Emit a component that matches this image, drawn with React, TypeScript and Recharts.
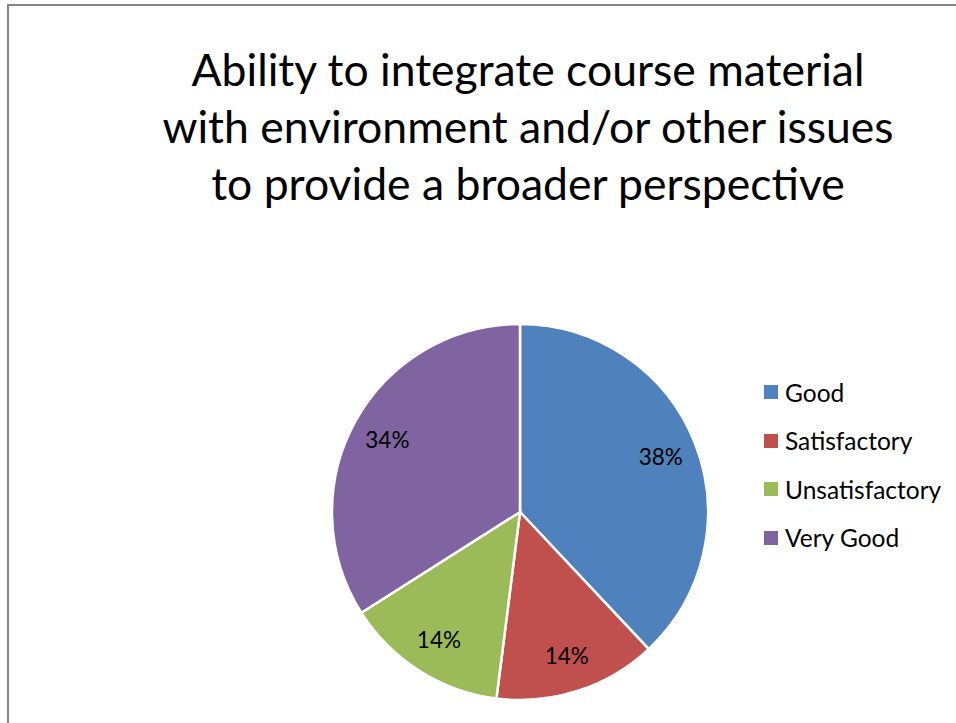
import React from 'react';
import { PieChart, Pie, Cell, Legend } from 'recharts';

const CATEGORIES = ['Good', 'Satisfactory', 'Unsatisfactory', 'Very Good'];
const PERCENTS = [38, 14, 14, 34];
const COLORS = ['#4F81BD', '#C0504D', '#9BBB59', '#8064A2'];
const TITLE_LINES = [
  'Ability to integrate course material',
  'with environment and/or other issues',
  'to provide a broader perspective',
];

const data = CATEGORIES.map((name, i) => ({ name, value: PERCENTS[i] }));

const FONT = 'Lato, Carlito, Calibri, sans-serif';
const RADIAN = Math.PI / 180;

function SliceLabel(props: any) {
  const { cx, cy, midAngle, outerRadius, value } = props;
  const r = outerRadius * 0.805;
  const x = cx + r * Math.cos(-midAngle * RADIAN);
  const y = cy + r * Math.sin(-midAngle * RADIAN);
  return (
    <text x={x} y={y} textAnchor="middle" dominantBaseline="central" fontSize={22.5} fill="#000" fontFamily={FONT}>
      {`${value}%`}
    </text>
  );
}

function LegendBox() {
  return (
    <div style={{ fontFamily: FONT, fontSize: 24.5, color: '#000' }}>
      {data.map((d, i) => (
        <div key={`lg-${d.name}`} style={{ display: 'flex', alignItems: 'center', height: 48.5 }}>
          <span style={{ width: 14, height: 14, background: COLORS[i], display: 'inline-block', marginRight: 7 }} />
          <span>{d.name}</span>
        </div>
      ))}
    </div>
  );
}

export default function App() {
  return (
    <div style={{ position: 'fixed', left: 0, top: 0, width: 956, height: 723, background: '#fff', overflow: 'hidden' }}>
      <div style={{ position: 'absolute', left: 7, top: 4, width: 1000, height: 800, borderTop: '2px solid #868686', borderLeft: '2px solid #868686' }} />
      <div style={{ position: 'absolute', left: 0, top: 40, width: 1056, textAlign: 'center', fontFamily: FONT, fontSize: 44.5, lineHeight: '57px', color: '#000' }}>
        {TITLE_LINES.map((t) => (
          <div key={t}>{t}</div>
        ))}
      </div>
      <div style={{ position: 'absolute', left: 0, top: 0 }}>
        <PieChart width={956} height={723}>
          <Pie
            data={data}
            dataKey="value"
            nameKey="name"
            cx={515}
            cy={507}
            outerRadius={188}
            startAngle={90}
            endAngle={-270}
            stroke="#fff"
            strokeWidth={2.5}
            label={SliceLabel}
            labelLine={false}
            isAnimationActive={false}
          >
            {data.map((d, i) => (
              <Cell key={`c-${d.name}`} fill={COLORS[i]} />
            ))}
          </Pie>
          <Legend
            content={<LegendBox />}
            layout="vertical"
            wrapperStyle={{ position: 'absolute', left: 764, top: 368, width: 190 }}
          />
        </PieChart>
      </div>
    </div>
  );
}
